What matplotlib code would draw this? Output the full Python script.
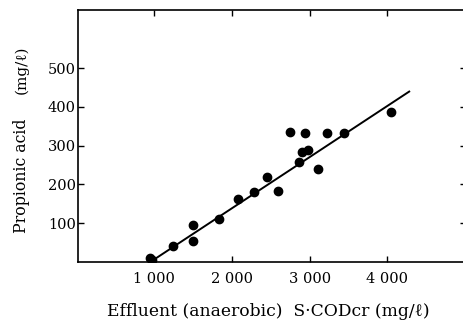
import matplotlib
matplotlib.use("Agg")
import matplotlib.pyplot as plt

# Data
cod = [940, 975, 1245, 1494, 1494, 1833, 2082, 2288, 2451, 2592, 2742,
       2863, 2897, 2944, 2983, 3112, 3227, 3442, 4047]
propionic = [10, 6, 42, 96, 53, 112, 162, 181, 219, 182, 335,
             259, 284, 332, 289, 240, 333, 334, 387]
line_x = [965, 4290]
line_y = [2, 441]
xticks = [1000, 2000, 3000, 4000]
xtick_labels = ["1 000", "2 000", "3 000", "4 000"]
yticks = [100, 200, 300, 400, 500]
ytick_labels = ["100", "200", "300", "400", "500"]

fam = ["DejaVu Serif", "Liberation Serif"]
plt.rcParams["font.family"] = fam

W, H = 464, 322
fig = plt.figure(figsize=(W / 100, H / 100), dpi=100)
left, right, top, bottom = 78, 466, 10, 262
ax = fig.add_axes([left / W, (H - bottom) / H, (right - left) / W, (bottom - top) / H])

ax.plot(line_x, line_y, color="black", lw=1.4, solid_capstyle="butt")
ax.plot(cod, propionic, "o", color="black", ms=6.0, mec="black")

ax.set_xlim(20, 5010)
ax.set_ylim(0, 650)
ax.set_xticks(xticks)
ax.set_xticklabels(xtick_labels)
ax.set_yticks(yticks)
ax.set_yticklabels(ytick_labels)
ax.tick_params(axis="both", direction="in", length=4, width=1.0, labelsize=10.5,
               top=True, right=True)
ax.tick_params(axis="x", pad=7)
ax.tick_params(axis="y", pad=1.5)
for s in ax.spines.values():
    s.set_linewidth(1.2)

fig.text(268 / W, 1 - 311 / H, "Effluent (anaerobic)  S·CODcr (mg/ℓ)",
         ha="center", va="center", fontsize=12.3, family=fam)
fig.text(22 / W, 1 - 176 / H, "Propionic acid",
         ha="center", va="center", rotation=90, fontsize=11.3, family=fam)
fig.text(22 / W, 1 - 70 / H, "(mg/ℓ)",
         ha="center", va="center", rotation=90, fontsize=11, family=fam)

fig.savefig("out.png", dpi=100)
